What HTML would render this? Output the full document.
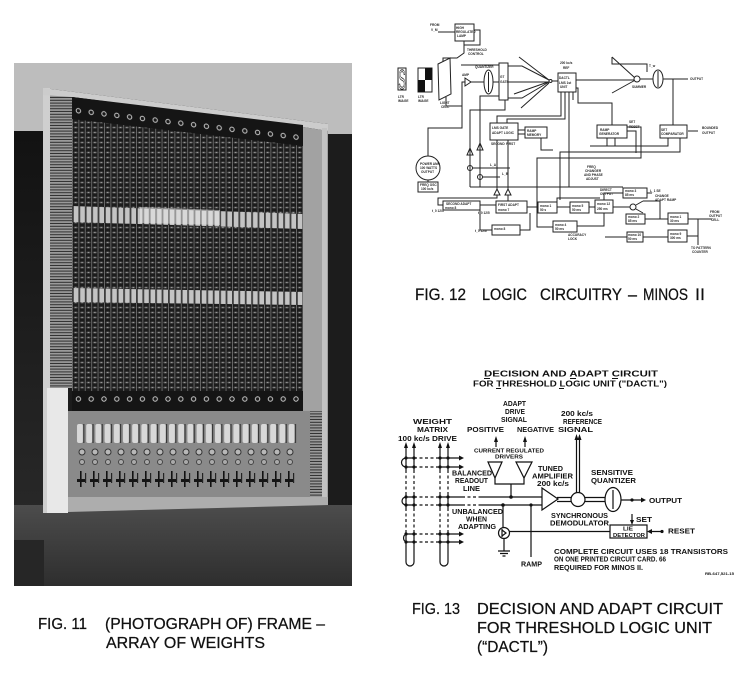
<!DOCTYPE html>
<html><head><meta charset="utf-8"><title>Figs 11-13</title>
<style>
html,body{margin:0;padding:0;background:#fff}
svg{display:block}
.cap{font-family:"Liberation Sans",sans-serif;fill:#111;stroke:#111;stroke-width:0.25}
.d{font-family:"Liberation Sans",sans-serif;font-weight:bold;fill:#111}
.t{font-family:"Liberation Sans",sans-serif;font-weight:bold;font-size:3.2px;fill:#2a2a2a}
</style></head>
<body>
<svg width="753" height="678" viewBox="0 0 753 678" xmlns="http://www.w3.org/2000/svg">
<defs>
 <linearGradient id="gl" x1="0" y1="0" x2="0" y2="1"><stop offset="0" stop-color="#121212"/><stop offset="1" stop-color="#2c2c2c"/></linearGradient>
 <linearGradient id="gb" x1="0" y1="0" x2="0" y2="1"><stop offset="0" stop-color="#4c4c4c"/><stop offset="1" stop-color="#2e2e2e"/></linearGradient>
 <pattern id="pg" x="72" y="0" width="6.4" height="5" patternUnits="userSpaceOnUse">
  <rect width="6.4" height="5" fill="#1c1c1c"/>
  <rect x="0" y="0" width="0.9" height="5" fill="#6e6e6e"/>
  <ellipse cx="3.7" cy="2.5" rx="2" ry="1" fill="#555"/>
  <rect x="3.1" y="2.1" width="1.2" height="0.8" fill="#b4b4b4"/>
 </pattern>
 <pattern id="pb" x="72" y="0" width="6.4" height="40" patternUnits="userSpaceOnUse">
  <rect width="6.4" height="40" fill="#c4c4c4"/>
  <rect x="0" width="1.8" height="40" fill="#3e3e3e"/>
 </pattern>
 <pattern id="ps" x="0" y="0" width="6" height="2.8" patternUnits="userSpaceOnUse">
  <rect width="6" height="2.8" fill="#9a9a9a"/>
  <rect y="1.8" width="6" height="1" fill="#2e2e2e"/>
 </pattern>
 <pattern id="pd" x="0" y="0" width="12.8" height="20" patternUnits="userSpaceOnUse">
  <circle cx="6.4" cy="10" r="2.2" fill="#1a1a1a" stroke="#c8c8c8" stroke-width="1"/>
 </pattern>
 <pattern id="pp" x="0" y="0" width="9.2" height="20" patternUnits="userSpaceOnUse">
  <rect x="1" y="0" width="6" height="19" rx="2" fill="#d8d8d8"/>
  <rect x="7.2" y="0" width="1.2" height="19" fill="#333"/>
 </pattern>
 <pattern id="pc" x="0" y="0" width="13" height="22" patternUnits="userSpaceOnUse">
  <circle cx="6" cy="5" r="3" fill="#b8b8b8" stroke="#333" stroke-width="1"/>
  <circle cx="6" cy="15" r="2.5" fill="#aaa" stroke="#444" stroke-width="1"/>
 </pattern>
 <pattern id="pk" x="0" y="0" width="13" height="22" patternUnits="userSpaceOnUse">
  <rect x="4" y="1" width="1.6" height="16" fill="#111"/>
  <rect x="1" y="9" width="9" height="3" fill="#151515"/>
  <rect x="9" y="3" width="1.2" height="10" fill="#222"/>
 </pattern>
</defs>

<!-- ===== FIG 11 PHOTO ===== -->
<rect x="14" y="63" width="338" height="523" fill="#1c1c1c"/>
<polygon points="14,63 352,63 352,134 328,134 328,124 43,88 43,131 14,133" fill="#bdbdbd"/>
<rect x="14" y="131" width="29" height="455" fill="url(#gl)"/>
<rect x="14" y="505" width="338" height="81" fill="url(#gb)"/>
<rect x="14" y="540" width="30" height="46" fill="#262626"/>
<!-- frame -->
<rect x="43" y="88" width="7" height="425" fill="#cfcfcf"/>
<rect x="50" y="95" width="22" height="293" fill="url(#ps)"/>
<polygon points="43,88 328,124 328,131 303,127 72,97 43,95" fill="#cccccc"/>
<polygon points="72,97 303,127 303,411 72,414" fill="url(#pg)"/>
<polygon points="72,97 303,125 303,146 72,119" fill="#151515"/>
<g transform="translate(72,100) skewY(6.9)"><rect x="0" y="0" width="231" height="20" fill="url(#pd)"/></g>
<polygon points="72,206 303,214 303,229 72,222" fill="url(#pb)"/>
<polygon points="140,207 220,210 220,225 140,223" fill="#ececec" opacity="0.5"/>
<polygon points="72,288 303,292 303,305 72,302" fill="url(#pb)"/>
<rect x="72" y="391" width="231" height="22" fill="#151515"/>
<g transform="translate(72,389)"><rect x="0" y="0" width="231" height="20" fill="url(#pd)"/></g>
<polygon points="303,127 328,131 328,503 322,503 322,411 303,411" fill="#a2a2a2"/>
<rect x="322" y="128" width="5" height="375" fill="#c2c2c2"/>
<!-- lower panel -->
<rect x="68" y="411" width="254" height="86" fill="#8a8a8a"/>
<g transform="translate(76,424)"><rect width="221" height="20" fill="url(#pp)"/></g>
<g transform="translate(76,447)"><rect width="221" height="22" fill="url(#pc)"/></g>
<g transform="translate(76,470)"><rect width="221" height="22" fill="url(#pk)"/></g>
<rect x="310" y="411" width="12" height="86" fill="url(#ps)"/>
<polygon points="68,497 328,497 328,505 68,512" fill="#adadad"/>
<rect x="47" y="388" width="21" height="125" fill="#e8e8e8"/>

<!-- ===== FIG 12 CIRCUIT ===== -->
<g stroke="#222" stroke-width="1" fill="none">
 <rect x="455" y="24" width="19" height="17"/>
 <path d="M438,32 H455 M474,30 H480 V45 H464 M464,41 V53 L457,58 H443 V62"/>
 <rect x="398" y="68" width="8" height="22"/>
 <rect x="418" y="68" width="14" height="24"/>
 <polygon points="438,64 450,58 451,94 439,100"/>
 <path d="M446,97 V106 H462 V82 H465"/>
 <polygon points="465,78 465,86 471,82"/>
 <path d="M471,82 H484"/>
 <ellipse cx="488.5" cy="82" rx="4.5" ry="12"/>
 <path d="M488.5,72 V92 M493,82 H499"/>
 <rect x="499" y="63" width="9" height="37"/>
 <path d="M461,65 H499"/>
 <path d="M508,66 H522 L549,80 M508,82 H549 M508,98 H522 L549,82 M519,57 L549,80 M521,108 L549,83 M514,94 L548,82"/>
 <circle cx="550.5" cy="81" r="1.5"/>
 <path d="M552,81 H558"/>
 <rect x="558" y="73" width="18" height="19"/>
 <path d="M561,92 V116 H497 V123 M565,92 V119 H507 V123 M569,92 V187 M573,92 V100 M576,88 H578 V103 H612 V125"/>
 <path d="M576,80 H634"/>
 <circle cx="637" cy="79" r="3"/>
 <path d="M612,57 L634.5,77.5 M612,93 L634.5,80.5 M612,57 V64 H647 V72"/>
 <path d="M640,79 H653"/>
 <ellipse cx="658" cy="79" rx="5" ry="9"/>
 <path d="M658,71 V87 M663,79 H688 M673,79 V125"/>
 <rect x="660" y="125" width="27" height="13"/>
 <path d="M698,131 H688"/>
 <rect x="597" y="125" width="30" height="13"/>
 <path d="M627,127 H641 V158 H537 V227 H553 M627,131 H636 V153 M668,138 V146 H590 M607,138 V146 M615,138 V146 M680,138 V152 H560 V200"/>
 <rect x="525" y="127" width="22" height="11"/>
 <path d="M518,130 H525 M518,134 H525 M541,138 V150 H553"/>
 <rect x="490" y="123" width="28" height="17"/>
 <path d="M497,140 V189 M508,140 V189"/>
 <polygon points="494,195 500,195 497,189"/>
 <polygon points="505,195 511,195 508,189"/>
 <path d="M497,195 V198 H438 V205 H443 M508,195 V201"/>
 <path d="M499,96 H480 V187 M505,100 V110 H470 V187"/>
 <polygon points="467,155 473,155 470,148"/>
 <polygon points="477,150 483,150 480,143"/>
 <circle cx="470" cy="168" r="2.5"/>
 <circle cx="480" cy="177" r="2.5"/>
 <path d="M472.5,168 H510 M482.5,177 H500 M470,187 H623"/>
 <circle cx="428" cy="168" r="12"/>
 <path d="M428,156 V128 H462 V106 M428,180 V182"/>
 <rect x="418" y="182" width="20" height="10"/>
 <rect x="443" y="201" width="37" height="9"/>
 <rect x="496" y="201" width="31" height="12"/>
 <rect x="538" y="202" width="19" height="11"/>
 <rect x="570" y="202" width="19" height="11"/>
 <rect x="595" y="200" width="18" height="13"/>
 <rect x="623" y="188" width="24" height="10"/>
 <rect x="626" y="214" width="19" height="10"/>
 <rect x="668" y="213" width="20" height="11"/>
 <rect x="668" y="230" width="19" height="12"/>
 <rect x="627" y="232" width="16" height="10"/>
 <rect x="492" y="225" width="28" height="10"/>
 <rect x="553" y="221" width="24" height="11"/>
 <path d="M480,205 H496 M527,207 H538 M557,207 H570 M589,207 H595 M613,207 H630 M647,193 H652 M645,219 H668 M688,219 H712 M698,219 V245 M687,236 H698 M643,237 H668 M627,237 H605 M480,210 V230 H492 M520,230 H530 V213 M577,226 H604 V213 M604,200 V193 H623 M557,207 V198 H600"/>
 <circle cx="633" cy="207" r="3"/>
 <path d="M636,205 L643,201 M636,209 L643,213 M643,201 H660 V219"/>
</g>
<rect x="425" y="68" width="7" height="12" fill="#111"/>
<rect x="418" y="80" width="7" height="12" fill="#111"/>
<text x="402" y="89" font-family="Liberation Sans, sans-serif" font-size="28" text-anchor="middle" fill="#fff" stroke="#222" stroke-width="0.9" textLength="7" lengthAdjust="spacingAndGlyphs">S</text>
<g class="t">
 <text x="430" y="26">FROM</text><text x="431" y="31">V_M</text>
 <text x="456" y="29">HIGH</text><text x="456" y="33">REGULATED</text><text x="457" y="37">LAMP</text>
 <text x="467" y="51">THRESHOLD</text><text x="468" y="55">CONTROL</text>
 <text x="398" y="98">LTR</text><text x="398" y="102">IMAGE</text>
 <text x="418" y="98">LTR</text><text x="418" y="102">IMAGE</text>
 <text x="440" y="104">LIGHT</text><text x="441" y="108">CELL</text>
 <text x="462" y="76">AMP</text>
 <text x="475" y="68">QUANTIZER</text>
 <text x="500" y="78">GT</text><text x="500" y="83">GATE</text>
 <text x="559" y="79">DACTL</text><text x="559" y="84">LMS 1st</text><text x="560" y="88">UNIT</text>
 <text x="560" y="64">200 kc/s</text><text x="563" y="69">REF</text>
 <text x="632" y="88">SUMMER</text><text x="649" y="67">T_w</text>
 <text x="690" y="80">OUTPUT</text>
 <text x="661" y="131">SET</text><text x="661" y="135">COMPARATOR</text>
 <text x="702" y="129">BOUNDED</text><text x="702" y="134">OUTPUT</text>
 <text x="600" y="131">RAMP</text><text x="599" y="135">GENERATOR</text>
 <text x="629" y="123">SET</text><text x="629" y="128">RESET</text>
 <text x="527" y="132">RAMP</text><text x="527" y="136">MEMORY</text>
 <text x="492" y="129">LMS GATE</text><text x="492" y="134">ADAPT LOGIC</text>
 <text x="491" y="145">SECOND</text><text x="506" y="145">FIRST</text>
 <text x="420" y="165">POWER AMP</text><text x="420" y="169">100 WATTS</text><text x="421" y="173">OUTPUT</text>
 <text x="420" y="186">FREQ OSC</text><text x="421" y="190">100 kc/s</text>
 <text x="490" y="166">L_A</text><text x="502" y="175">L_B</text>
 <text x="587" y="168">FREQ</text><text x="585" y="172">CHANGER</text><text x="584" y="176">AND PHASE</text><text x="586" y="180">ADJUST</text>
 <text x="446" y="205">SECOND ADAPT</text><text x="445" y="209">mono 8</text>
 <text x="498" y="206">FIRST ADAPT</text><text x="498" y="211">mono 7</text>
 <text x="540" y="207">mono 1</text><text x="540" y="211">50 s</text>
 <text x="572" y="207">mono 5</text><text x="572" y="211">50 ms</text>
 <text x="597" y="205">mono 12</text><text x="597" y="210">250 ms</text>
 <text x="625" y="192">mono 3</text><text x="625" y="196">85 ms</text>
 <text x="628" y="218">mono 2</text><text x="628" y="222">85 ms</text>
 <text x="670" y="218">mono 1</text><text x="670" y="222">30 ms</text>
 <text x="670" y="235">mono 9</text><text x="670" y="239">300 ms</text>
 <text x="628" y="236">mono 10</text><text x="628" y="240">50 ms</text>
 <text x="494" y="230">mono 8</text><text x="555" y="226">mono 4</text><text x="555" y="230">50 ms</text>
 <text x="650" y="192">L_1 SE</text><text x="655" y="197">CHANGE</text><text x="655" y="201">ADAPT RAMP</text>
 <text x="710" y="213">FROM</text><text x="709" y="217">OUTPUT</text><text x="711" y="221">CELL</text>
 <text x="691" y="249">TO PATTERN</text><text x="692" y="253">COUNTER</text>
 <text x="568" y="236">ACCURACY</text><text x="568" y="240">LOCK</text>
 <text x="432" y="212">t_0 12/4</text><text x="478" y="214">t_0 12/5</text><text x="475" y="232">t_0 12/6</text>
 <text x="600" y="191">DIRECT</text><text x="600" y="195">OUTPUT</text>
</g>

<!-- Fig 12 caption -->
<g class="cap" font-size="16.5">
 <text x="415" y="300" textLength="51" lengthAdjust="spacingAndGlyphs">FIG. 12</text>
 <text x="482" y="300" textLength="45" lengthAdjust="spacingAndGlyphs">LOGIC</text>
 <text x="540" y="300" textLength="82" lengthAdjust="spacingAndGlyphs">CIRCUITRY</text>
 <text x="628" y="300" textLength="9" lengthAdjust="spacingAndGlyphs">–</text>
 <text x="643" y="300" textLength="45" lengthAdjust="spacingAndGlyphs">MINOS</text>
 <text x="695" y="300" textLength="10" lengthAdjust="spacingAndGlyphs">II</text>
</g>

<!-- ===== FIG 13 DIAGRAM ===== -->
<g class="d" font-size="8">
 <text x="484" y="376.5" textLength="174" lengthAdjust="spacingAndGlyphs">DECISION AND ADAPT CIRCUIT</text>
 <text x="473" y="386.5" textLength="194" lengthAdjust="spacingAndGlyphs">FOR THRESHOLD LOGIC UNIT ("DACTL")</text>
</g>
<g stroke="#111" stroke-width="0.9">
 <path d="M484,378.5 H490 M570,378.5 H576 M612,378.5 H618 M496,388.5 H501 M559,388.5 H564"/>
</g>
<g class="d" font-size="7.2">
 <text x="503" y="406" textLength="23" lengthAdjust="spacingAndGlyphs">ADAPT</text>
 <text x="505" y="414" textLength="20" lengthAdjust="spacingAndGlyphs">DRIVE</text>
 <text x="501" y="422" textLength="26" lengthAdjust="spacingAndGlyphs">SIGNAL</text>
 <text x="413" y="424" textLength="39" lengthAdjust="spacingAndGlyphs">WEIGHT</text>
 <text x="417" y="432" textLength="31" lengthAdjust="spacingAndGlyphs">MATRIX</text>
 <text x="398" y="441" textLength="59" lengthAdjust="spacingAndGlyphs">100 kc/s DRIVE</text>
 <text x="467" y="432" textLength="37" lengthAdjust="spacingAndGlyphs">POSITIVE</text>
 <text x="517" y="432" textLength="37" lengthAdjust="spacingAndGlyphs">NEGATIVE</text>
 <text x="558" y="432" textLength="35" lengthAdjust="spacingAndGlyphs">SIGNAL</text>
 <text x="561" y="416" textLength="32" lengthAdjust="spacingAndGlyphs">200 kc/s</text>
 <text x="563" y="424" textLength="39" lengthAdjust="spacingAndGlyphs">REFERENCE</text>
 <text x="452" y="475.5" textLength="40" lengthAdjust="spacingAndGlyphs">BALANCED</text>
 <text x="455" y="483" textLength="33" lengthAdjust="spacingAndGlyphs">READOUT</text>
 <text x="463" y="491" textLength="17" lengthAdjust="spacingAndGlyphs">LINE</text>
 <text x="538" y="471" textLength="25" lengthAdjust="spacingAndGlyphs">TUNED</text>
 <text x="532" y="478.5" textLength="41" lengthAdjust="spacingAndGlyphs">AMPLIFIER</text>
 <text x="537" y="486" textLength="32" lengthAdjust="spacingAndGlyphs">200 kc/s</text>
 <text x="591" y="475" textLength="42" lengthAdjust="spacingAndGlyphs">SENSITIVE</text>
 <text x="591" y="483" textLength="45" lengthAdjust="spacingAndGlyphs">QUANTIZER</text>
 <text x="649" y="503" textLength="33" lengthAdjust="spacingAndGlyphs">OUTPUT</text>
 <text x="551" y="518" textLength="57" lengthAdjust="spacingAndGlyphs">SYNCHRONOUS</text>
 <text x="550" y="525.5" textLength="59" lengthAdjust="spacingAndGlyphs">DEMODULATOR</text>
 <text x="452" y="514" textLength="51" lengthAdjust="spacingAndGlyphs">UNBALANCED</text>
 <text x="466" y="521.5" textLength="21" lengthAdjust="spacingAndGlyphs">WHEN</text>
 <text x="458" y="529" textLength="38" lengthAdjust="spacingAndGlyphs">ADAPTING</text>
 <text x="636" y="522" textLength="16" lengthAdjust="spacingAndGlyphs">SET</text>
 <text x="668" y="533.5" textLength="27" lengthAdjust="spacingAndGlyphs">RESET</text>
 <text x="521" y="566.5" textLength="21" lengthAdjust="spacingAndGlyphs">RAMP</text>
 <text x="554" y="554" textLength="174" lengthAdjust="spacingAndGlyphs">COMPLETE CIRCUIT USES 18 TRANSISTORS</text>
 <text x="554" y="561.5" textLength="112" lengthAdjust="spacingAndGlyphs">ON ONE PRINTED CIRCUIT CARD.   66</text>
 <text x="554" y="570" textLength="89" lengthAdjust="spacingAndGlyphs">REQUIRED FOR MINOS II.</text>
</g>
<g class="d" font-size="5.5">
 <text x="474" y="452.5" textLength="70" lengthAdjust="spacingAndGlyphs">CURRENT REGULATED</text>
 <text x="495" y="458.5" textLength="28" lengthAdjust="spacingAndGlyphs">DRIVERS</text>
 <text x="623" y="530.5" textLength="10" lengthAdjust="spacingAndGlyphs">LIE</text>
 <text x="613" y="537" textLength="32" lengthAdjust="spacingAndGlyphs">DETECTOR</text>
</g>
<text class="d" x="705" y="575" font-size="4" textLength="29" lengthAdjust="spacingAndGlyphs">RB-647,521-15</text>

<g stroke="#111" stroke-width="1.2" fill="none">
 <path d="M406,445 V470 M414,445 V470 M440,445 V470 M448,445 V470"/>
 <path d="M406,494 V508 M414,494 V508 M440,494 V508 M448,494 V508"/>
 <path d="M406,531 V562 A4,4 0 0 0 414,562 V531 M440,531 V562 A4,4 0 0 0 448,562 V531"/>
 <path d="M406,470 V494 M414,470 V494 M440,470 V494 M448,470 V494 M406,508 V531 M414,508 V531 M440,508 V531 M448,508 V531" stroke-dasharray="3,2.5"/>
 <path d="M414,458 H406 A4.5,4.5 0 0 0 406,467 H414 M440,458 H460 M440,467 H460"/>
 <path d="M414,534 H406 A4.5,4.5 0 0 0 406,542 H414 M440,534 H460 M440,542 H460"/>
 <path d="M414,497 H406 A4,4 0 0 0 406,505 H414 M440,497 H462 M440,505 H462 M480,497 H542 M480,505 H542"/>
 <path d="M414,458 H440 M414,467 H440 M414,534 H440 M414,542 H440 M414,497 H440 M414,505 H440 M462,497 H480 M462,505 H480" stroke-dasharray="3,2.5"/>
 <path d="M496,447 V440 M525,447 V440"/>
 <polygon points="488,462 502,462 495,478"/>
 <polygon points="516,462 532,462 524,478"/>
 <path d="M495,478 V484 H524 V478 M511,484 V497"/>
 <path d="M503,505 V527.5"/>
 <circle cx="504" cy="533" r="5.5"/>
 <path d="M502,530 L506,533 L502,536 M502,529 V537"/>
 <path d="M504,538.5 V551 M498,551 H510 M500,553.5 H508 M502.5,556 H505.5"/>
 <path d="M509.5,531.5 H610"/>
 <path d="M531,505 V557"/>
 <polygon points="542,488 542,510 558,499"/>
 <path d="M557,497.5 H571 M557,501.5 H571 M585,497.5 H605 M585,501.5 H605"/>
 <circle cx="578" cy="499.5" r="7"/>
 <path d="M576.5,437 V492.6 M579.5,437 V492.6"/>
 <ellipse cx="613" cy="499.5" rx="8" ry="12"/>
 <path d="M613,490 V509"/>
 <path d="M621,500 H642"/>
 <rect x="610" y="525" width="37" height="13"/>
 <path d="M632,514 V521 M649,531.5 H662"/>
</g>
<g fill="#111">
 <circle cx="406" cy="458" r="1.6"/><circle cx="414" cy="458" r="1.6"/><circle cx="440" cy="458" r="1.6"/><circle cx="448" cy="458" r="1.6"/>
 <circle cx="406" cy="467" r="1.6"/><circle cx="414" cy="467" r="1.6"/><circle cx="440" cy="467" r="1.6"/><circle cx="448" cy="467" r="1.6"/>
 <circle cx="406" cy="497" r="1.6"/><circle cx="414" cy="497" r="1.6"/><circle cx="440" cy="497" r="1.6"/><circle cx="448" cy="497" r="1.6"/>
 <circle cx="406" cy="505" r="1.6"/><circle cx="414" cy="505" r="1.6"/><circle cx="440" cy="505" r="1.6"/><circle cx="448" cy="505" r="1.6"/>
 <circle cx="406" cy="534" r="1.6"/><circle cx="414" cy="534" r="1.6"/><circle cx="440" cy="534" r="1.6"/><circle cx="448" cy="534" r="1.6"/>
 <circle cx="406" cy="542" r="1.6"/><circle cx="414" cy="542" r="1.6"/><circle cx="440" cy="542" r="1.6"/><circle cx="448" cy="542" r="1.6"/>
 <circle cx="511" cy="497" r="1.8"/><circle cx="503" cy="505" r="1.8"/><circle cx="531" cy="505" r="1.6"/>
 <circle cx="632" cy="500" r="1.6"/><circle cx="662" cy="531.5" r="1.6"/>
 <polygon points="404,448 406,442 408,448"/><polygon points="412,448 414,442 416,448"/>
 <polygon points="438,448 440,442 442,448"/><polygon points="446,448 448,442 450,448"/>
 <polygon points="459,455.5 464,458 459,460.5"/><polygon points="459,464.5 464,467 459,469.5"/>
 <polygon points="459,531.5 464,534 459,536.5"/><polygon points="459,539.5 464,542 459,544.5"/>
 <polygon points="494,442 496,436 498,442"/><polygon points="523,442 525,436 527,442"/>
 <polygon points="574.5,440 576.5,434 578.5,440"/><polygon points="577.5,440 579.5,434 581.5,440"/>
 <polygon points="641,497.5 646,500 641,502.5"/>
 <polygon points="630,520 632,525 634,520"/>
 <polygon points="652,529 647,531.5 652,534"/>
</g>

<!-- captions fig 11 / 13 -->
<g class="cap" font-size="15.5">
 <text x="38" y="629" textLength="49" lengthAdjust="spacingAndGlyphs">FIG. 11</text>
 <text x="105" y="629" textLength="220" lengthAdjust="spacingAndGlyphs">(PHOTOGRAPH OF) FRAME –</text>
 <text x="106" y="648" textLength="159" lengthAdjust="spacingAndGlyphs">ARRAY OF WEIGHTS</text>
 <text x="412" y="614" textLength="48" lengthAdjust="spacingAndGlyphs">FIG. 13</text>
 <text x="477" y="614" textLength="246" lengthAdjust="spacingAndGlyphs">DECISION AND ADAPT CIRCUIT</text>
 <text x="477" y="633" textLength="235" lengthAdjust="spacingAndGlyphs">FOR THRESHOLD LOGIC UNIT</text>
 <text x="477" y="652" textLength="71" lengthAdjust="spacingAndGlyphs">(“DACTL”)</text>
</g>
</svg>
</body></html>
